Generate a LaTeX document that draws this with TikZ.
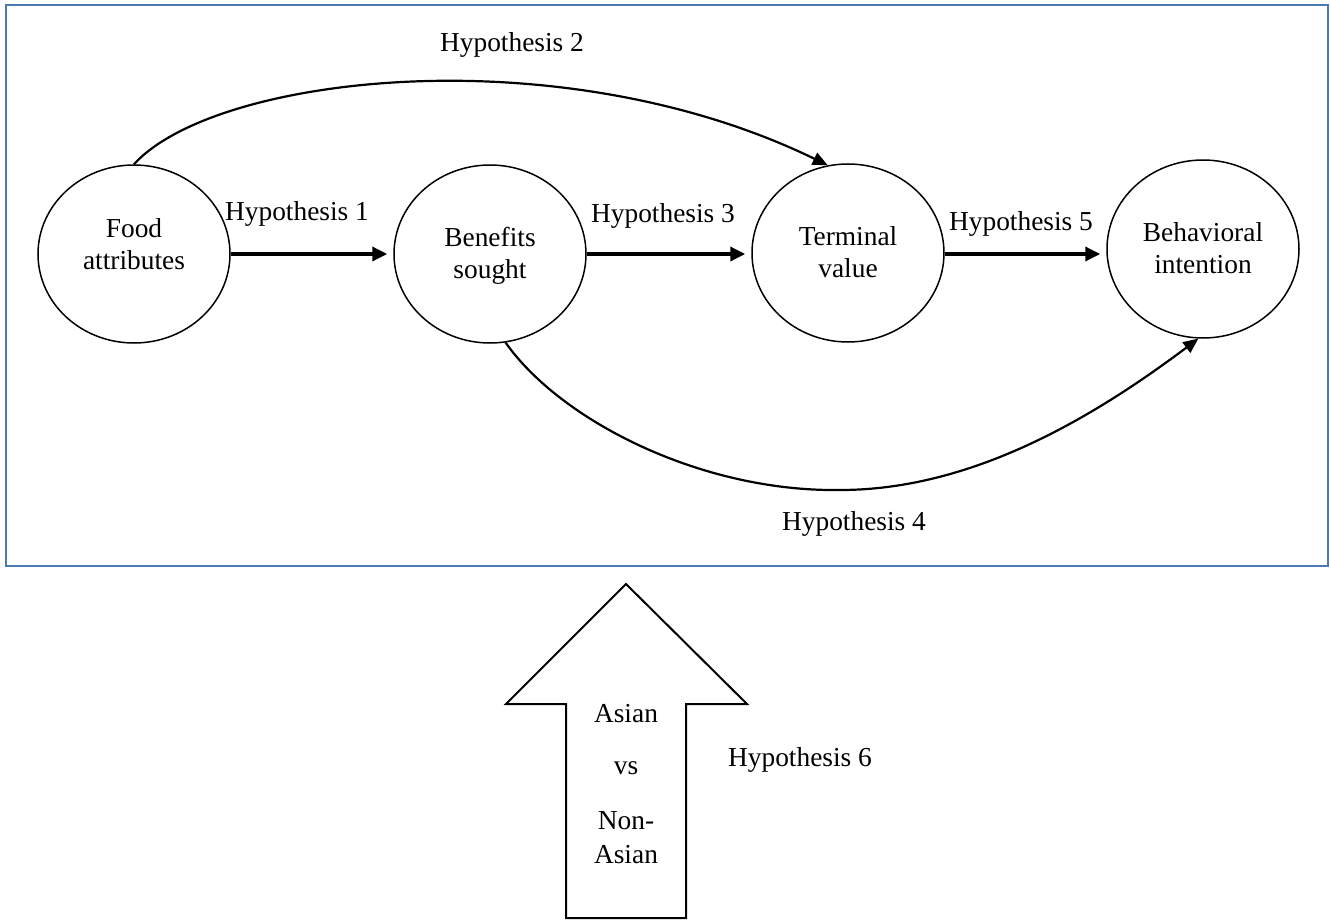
\documentclass[tikz,border=0pt]{standalone}
\usepackage{fontspec}
\setmainfont{Liberation Serif}
\usetikzlibrary{arrows.meta,shapes.geometric}
\definecolor{frameblue}{RGB}{74,122,176}
\tikzset{
  ell/.style={draw=black, line width=0.75pt, ellipse, minimum width=96pt, minimum height=89pt, inner sep=0pt},
  txt/.style={align=center, inner sep=0pt, font=\fontsize{13.7pt}{16pt}\selectfont},
  lbl/.style={inner sep=0pt, font=\fontsize{13.7pt}{16pt}\selectfont},
  straightarrow/.style={line width=1.7pt, -{Triangle[length=7.5pt,width=7pt]}, shorten >=3pt},
  curvearrow/.style={line width=1.1pt, -{Triangle[length=7.5pt,width=6.5pt]}},
  blockarrow/.style={draw=black, line width=1pt, line join=miter, fill=white},
}
\begin{document}
\begin{tikzpicture}[x=0.5pt,y=-0.5pt]
\useasboundingbox (0,0) rectangle (1330,921);
% frame
\draw[frameblue, line width=1.2pt] (6,5) rectangle (1328,566);
% ellipses
\node[ell] (food) at (134,254) {};
\node[ell] (ben)  at (490,254) {};
\node[ell] (term) at (848,253) {};
\node[ell] (beh)  at (1203,249) {};
\node[txt] (foodt) at (134,244) {Food\\attributes};
\node[txt] (bent)  at (490,256) {Benefits\\sought};
\node[txt] (termt) at (848,252) {Terminal\\value};
\node[txt] (beht)  at (1203,248) {Behavioral\\intention};
% straight arrows
\draw[straightarrow] (food.east) -- (food.east -| ben.west);
\draw[straightarrow] (ben.east) -- (ben.east -| term.west);
\draw[straightarrow] (ben.east -| term.east) -- (ben.east -| beh.west);
% curved arrows
\draw[curvearrow] (food.north) .. controls (215,75) and (560,35) .. (term.103);
\coordinate (h4low) at (840,490);
\draw[curvearrow] (ben.-80) .. controls (560,420) and (700,492) .. (h4low)
  .. controls (970,490) and (1090,420) .. (beh.-93);
% labels
\node[lbl] (h1) at (297,214) {Hypothesis 1};
\node[lbl] (h2) at (512,45) {Hypothesis 2};
\node[lbl] (h3) at (663,216) {Hypothesis 3};
\node[lbl] (h5) at (1021,224) {Hypothesis 5};
\node[lbl] (h4) at (854,524) {Hypothesis 4};
\node[lbl] (h6) at (800,760) {Hypothesis 6};
% block arrow
\draw[blockarrow] (626,584) -- (747,704) -- (686,704) -- (686,918) -- (566,918) -- (566,704) -- (506,704) -- cycle;
\node[lbl, anchor=base] (a1) at (626,722) {Asian};
\node[lbl, anchor=base] (vs) at (626,774) {vs};
\node[lbl, anchor=base] (non) at (626,829) {Non-};
\node[lbl, anchor=base] (a2) at (626,863) {Asian};
\end{tikzpicture}
\end{document}
